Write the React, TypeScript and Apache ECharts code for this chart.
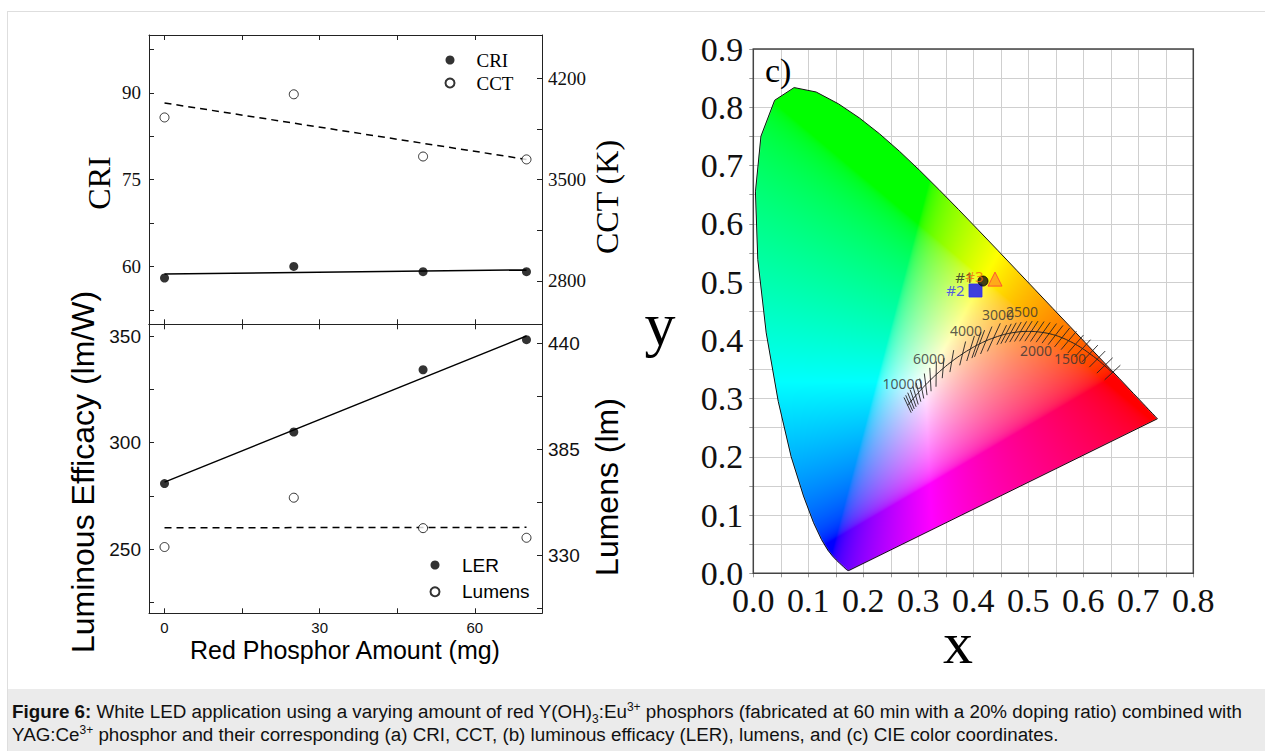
import React, { useEffect, useRef } from "react";
import * as echarts from "echarts";

// ---------- (a) CRI / CCT ----------
const amounts = [0, 25, 50, 70];
const criValues = [58.0, 60.0, 59.1, 59.1];
const cctValues = [3930, 4090, 3660, 3640];
const criFit = [[0, 58.7], [70, 59.4]];
const cctFit = [[0, 4030], [70, 3640]];

// ---------- (b) LER / Lumens ----------
const lerValues = [280.8, 305.0, 334.2, 348.3];
const lumenValues = [334.4, 360.0, 344.2, 339.2];
const lerFit = [[0, 281.5], [70, 350.0]];
const lumenFit = [[0, 344.4], [70, 344.6]];

// ---------- ticks ----------
const amountTicks = [0, 15, 30, 45, 60];
const amountLabels = [0, 30, 60];
const criTicks = [52.5, 60, 67.5, 75, 82.5, 90, 97.5];
const criLabels = [60, 75, 90];
const cctTicks = [2800, 3150, 3500, 3850, 4200];
const cctLabels = [2800, 3500, 4200];
const lerTicks = [225, 250, 275, 300, 325, 350];
const lerLabels = [250, 300, 350];
const lumenTicks = [302.5, 330, 357.5, 385, 412.5, 440];
const lumenLabels = [330, 385, 440];

// ---------- (c) CIE 1931 ----------
const locusX = [0.1741, 0.1740, 0.1738, 0.1736, 0.1733, 0.1730, 0.1726, 0.1721, 0.1714, 0.1703, 0.1689, 0.1669, 0.1644, 0.1611, 0.1566, 0.1510, 0.1440, 0.1355, 0.1241, 0.1096, 0.0913, 0.0687, 0.0454, 0.0235, 0.0082, 0.0039, 0.0139, 0.0389, 0.0743, 0.1142, 0.1547, 0.1929, 0.2296, 0.2658, 0.3016, 0.3373, 0.3731, 0.4087, 0.4441, 0.4788, 0.5125, 0.5448, 0.5752, 0.6029, 0.6270, 0.6482, 0.6658, 0.6801, 0.6915, 0.7006, 0.7079, 0.7140, 0.7190, 0.7230, 0.7260, 0.7283, 0.7300, 0.7311, 0.7320, 0.7334, 0.7347];
const locusY = [0.0050, 0.0050, 0.0049, 0.0049, 0.0048, 0.0048, 0.0048, 0.0048, 0.0051, 0.0058, 0.0069, 0.0086, 0.0109, 0.0138, 0.0177, 0.0227, 0.0297, 0.0399, 0.0578, 0.0868, 0.1327, 0.2007, 0.2950, 0.4127, 0.5384, 0.6548, 0.7502, 0.8120, 0.8338, 0.8262, 0.8059, 0.7816, 0.7543, 0.7243, 0.6923, 0.6589, 0.6245, 0.5896, 0.5547, 0.5202, 0.4866, 0.4544, 0.4242, 0.3965, 0.3725, 0.3514, 0.3340, 0.3197, 0.3083, 0.2993, 0.2920, 0.2859, 0.2809, 0.2770, 0.2740, 0.2717, 0.2700, 0.2689, 0.2680, 0.2666, 0.2653];

const planckT = [1000, 1100, 1200, 1300, 1400, 1500, 1600, 1700, 1800, 1900, 2000, 2100, 2200, 2300, 2400, 2500, 2600, 2700, 2800, 3000, 3200, 3400, 3500, 3700, 4000, 4500, 5000, 5500, 6000, 6500, 7000, 7500, 8000, 8500, 9000, 9500, 10000];
const planckX = [0.6528, 0.6387, 0.6251, 0.6117, 0.5985, 0.5857, 0.5732, 0.5611, 0.5492, 0.5378, 0.5267, 0.5160, 0.5054, 0.4953, 0.4857, 0.4765, 0.4677, 0.4593, 0.4514, 0.4369, 0.4232, 0.4110, 0.4053, 0.3948, 0.3805, 0.3608, 0.3451, 0.3325, 0.3221, 0.3135, 0.3064, 0.3004, 0.2952, 0.2908, 0.2869, 0.2836, 0.2807];
const planckY = [0.3444, 0.3565, 0.3674, 0.3770, 0.3858, 0.3931, 0.3993, 0.4044, 0.4085, 0.4114, 0.4133, 0.4146, 0.4152, 0.4152, 0.4147, 0.4137, 0.4124, 0.4107, 0.4087, 0.4041, 0.3991, 0.3936, 0.3909, 0.3852, 0.3768, 0.3636, 0.3516, 0.3411, 0.3318, 0.3237, 0.3166, 0.3103, 0.3048, 0.3000, 0.2956, 0.2918, 0.2884];

const cctTagText = ["10000", "6000", "4000", "3000", "2500", "2000", "1500"];
const cctTagX = [0.2713, 0.3195, 0.3867, 0.4449, 0.4885, 0.514, 0.5758];
const cctTagY = [0.3266, 0.3695, 0.4176, 0.4434, 0.4502, 0.3833, 0.3695];

const sampleNames = ["#2", "#1", "#3"];
const sampleX = [0.404, 0.4176, 0.4395];
const sampleY = [0.4854, 0.5017, 0.505];

const cieXMax = 0.8;
const cieYMax = 0.9;

// ---------- styles ----------
const serif = "'Liberation Serif','Times New Roman',serif";
const sans = "'Liberation Sans',Arial,sans-serif";
const uiSans = "'Noto Sans','Open Sans',sans-serif";
const sampleSymbols = ["rect", "circle", "triangle"];
const sampleSizes = [13, 10, 14];
const sampleFill = ["#0f0fff", "#111111", "#ff9a1f"];
const sampleBorder = ["#2a2aff", "#000000", "#ff3b3b"];
const sampleLabelColor = ["#2f2fff", "#222222", "#f26a10"];
const sampleLabelOffset = [[0, -1], [0, -4], [0, -3]];

function toUV(x: number, y: number) {
  const d = -2 * x + 12 * y + 3;
  return [(4 * x) / d, (6 * y) / d];
}
function toXY(u: number, v: number) {
  const d = 2 * u - 8 * v + 4;
  return [(3 * u) / d, (2 * v) / d];
}

// image pixel size matches the plot box aspect (440 x 524.3 px)
function makeCieImage(): string {
  const W = 880, H = 1049;
  const c1 = document.createElement("canvas");
  c1.width = W; c1.height = H;
  const g1 = c1.getContext("2d")!;
  const im = g1.createImageData(W, H);
  const gam = (v: number) => (v <= 0.0031308 ? 12.92 * v : 1.055 * Math.pow(v, 1 / 2.4) - 0.055);
  for (let j = 0; j < H; j++) {
    const y = Math.max(cieYMax * (1 - (j + 0.5) / H), 0.002);
    for (let i = 0; i < W; i++) {
      const x = cieXMax * (i + 0.5) / W;
      const X = x / y, Z = (1 - x - y) / y;
      let r = 3.2406 * X - 1.5372 - 0.4986 * Z;
      let g = -0.9689 * X + 1.8758 + 0.0415 * Z;
      let b = 0.0557 * X - 0.204 + 1.057 * Z;
      r = Math.max(r, 0); g = Math.max(g, 0); b = Math.max(b, 0);
      const m = Math.max(r, g, b, 1e-6);
      const k = (j * W + i) * 4;
      im.data[k] = Math.round(255 * gam(r / m));
      im.data[k + 1] = Math.round(255 * gam(g / m));
      im.data[k + 2] = Math.round(255 * gam(b / m));
      im.data[k + 3] = 255;
    }
  }
  g1.putImageData(im, 0, 0);
  const c2 = document.createElement("canvas");
  c2.width = W; c2.height = H;
  const g2 = c2.getContext("2d")!;
  g2.beginPath();
  locusX.forEach((lx, k) => {
    const px = (lx / cieXMax) * W, py = (1 - locusY[k] / cieYMax) * H;
    if (k === 0) g2.moveTo(px, py); else g2.lineTo(px, py);
  });
  g2.closePath();
  g2.clip();
  g2.drawImage(c1, 0, 0);
  return c2.toDataURL("image/png");
}

function panelX(gridIndex: number, position: string, showLabels: boolean) {
  return {
    type: "value", gridIndex, position, min: -3, max: 73,
    axisLine: { show: true, onZero: false, lineStyle: { color: "#222", width: 1 } },
    axisTick: { show: true, inside: true, length: 5, customValues: amountTicks, lineStyle: { color: "#222" } },
    axisLabel: { show: showLabels, customValues: amountLabels, fontFamily: sans, fontSize: 15, color: "#111", margin: 7 },
    splitLine: { show: false },
  };
}

function panelY(gridIndex: number, position: string, min: number, max: number, ticks: number[], labels: number[], font: string, margin: number) {
  return {
    type: "value", gridIndex, position, min, max,
    axisLine: { show: true, onZero: false, lineStyle: { color: "#222", width: 1 } },
    axisTick: { show: true, inside: true, length: 5, customValues: ticks, lineStyle: { color: "#222" } },
    axisLabel: { show: true, customValues: labels, formatter: (v: number) => String(v), fontFamily: font, fontSize: 19, color: "#111", margin },
    splitLine: { show: false },
  };
}

function cieAxis(gridIndex: number, max: number) {
  return {
    type: "value", gridIndex, min: 0, max, interval: 0.1,
    axisLine: { show: false, onZero: false },
    axisTick: { show: true, length: 4, lineStyle: { color: "#999" } },
    minorTick: { show: true, splitNumber: 2, length: 4, lineStyle: { color: "#999" } },
    axisLabel: { formatter: (v: number) => v.toFixed(1), fontFamily: serif, fontSize: 34, color: "#111", margin: 10 },
    splitLine: { show: true, lineStyle: { color: "#cfcfcf", width: 1 } },
    minorSplitLine: { show: true, lineStyle: { color: "#cfcfcf", width: 1 } },
  };
}

function title(text: string, x: number, y: number, font: string, rot: boolean, align = "center") {
  return {
    type: "text", x, y, rotation: rot ? Math.PI / 2 : 0, z: 20,
    style: { text, font, fill: "#000", textAlign: align, textVerticalAlign: "middle", align, verticalAlign: "middle" },
  };
}

function buildOption(imgUrl: string) {
  const pts = (xs: number[], ys: number[]) => xs.map((x, i) => [x, ys[i]]);
  return {
    animation: false,
    grid: [
      { left: 149, top: 35, width: 393, height: 289.3, outerBoundsMode: "none" },
      { left: 149, top: 324.3, width: 393, height: 289, outerBoundsMode: "none" },
      { left: 753.3, top: 49, width: 440, height: 524.3, outerBoundsMode: "none" },
    ],
    xAxis: [
      panelX(0, "bottom", false),
      panelX(0, "top", false),
      panelX(1, "bottom", true),
      panelX(1, "top", false),
      cieAxis(2, cieXMax),
    ],
    yAxis: [
      panelY(0, "left", 50, 100, criTicks, criLabels, serif, 8),
      panelY(0, "right", 2500, 4500, cctTicks, cctLabels, serif, 6),
      panelY(1, "left", 220, 355.5, lerTicks, lerLabels, sans, 8),
      panelY(1, "right", 300, 450, lumenTicks, lumenLabels, sans, 6),
      cieAxis(2, cieYMax),
    ],
    legend: [
      {
        data: ["CRI", "CCT"], orient: "vertical", left: 444.5, top: 50, padding: 0,
        itemWidth: 9, itemHeight: 9, itemGap: 3, selectedMode: false,
        textStyle: { fontFamily: serif, fontSize: 19, color: "#000", lineHeight: 20, padding: [0, 0, 0, 17] },
      },
      {
        data: ["LER", "Lumens"], orient: "vertical", left: 429.5, top: 555, padding: 0,
        itemWidth: 9, itemHeight: 9, itemGap: 6.7, selectedMode: false,
        textStyle: { fontFamily: sans, fontSize: 19, color: "#000", lineHeight: 20, padding: [0, 0, 0, 17.5] },
      },
    ],
    graphic: [
      title("CRI", 99, 183, `32px ${serif}`, true),
      title("CCT (K)", 607, 197, `32px ${serif}`, true),
      title("Luminous Efficacy (lm/W)", 83, 472, `32px ${sans}`, true),
      title("Lumens (lm)", 607, 487, `32px ${sans}`, true),
      title("Red Phosphor Amount (mg)", 345, 650, `25px ${sans}`, false),
      title("y", 660, 324, `62px ${serif}`, false),
      title("x", 958, 643, `60px ${serif}`, false),
      title("c)", 765, 70, `34px ${serif}`, false, "left"),
    ],
    series: [
      { name: "CRI fit", type: "line", xAxisIndex: 0, yAxisIndex: 0, data: criFit, symbol: "none", lineStyle: { color: "#000", width: 1.5 }, z: 3 },
      { name: "CCT fit", type: "line", xAxisIndex: 0, yAxisIndex: 1, data: cctFit, symbol: "none", lineStyle: { color: "#000", width: 1.5, type: [7, 5] }, z: 3 },
      { name: "CRI", type: "scatter", xAxisIndex: 0, yAxisIndex: 0, data: pts(amounts, criValues), symbol: "circle", symbolSize: 9, itemStyle: { color: "#000" }, z: 5 },
      { name: "CCT", type: "scatter", xAxisIndex: 0, yAxisIndex: 1, data: pts(amounts, cctValues), symbol: "circle", symbolSize: 9, itemStyle: { color: "#fff", borderColor: "#000", borderWidth: 1 }, z: 5 },
      { name: "LER fit", type: "line", xAxisIndex: 2, yAxisIndex: 2, data: lerFit, symbol: "none", lineStyle: { color: "#000", width: 1.5 }, z: 3 },
      { name: "Lumens fit", type: "line", xAxisIndex: 2, yAxisIndex: 3, data: lumenFit, symbol: "none", lineStyle: { color: "#000", width: 1.5, type: [7, 5] }, z: 3 },
      { name: "LER", type: "scatter", xAxisIndex: 2, yAxisIndex: 2, data: pts(amounts, lerValues), symbol: "circle", symbolSize: 9, itemStyle: { color: "#000" }, z: 5 },
      { name: "Lumens", type: "scatter", xAxisIndex: 2, yAxisIndex: 3, data: pts(amounts, lumenValues), symbol: "circle", symbolSize: 9, itemStyle: { color: "#fff", borderColor: "#000", borderWidth: 1 }, z: 5 },
      // CIE colour field
      {
        name: "gamut", type: "custom", xAxisIndex: 4, yAxisIndex: 4, data: [[0, 0]], silent: true, clip: false, z: 2,
        renderItem: (_p: any, api: any) => {
          const a = api.coord([0, cieYMax]);
          const b = api.coord([cieXMax, 0]);
          return { type: "image", style: { image: imgUrl, x: a[0], y: a[1], width: b[0] - a[0], height: b[1] - a[1] } };
        },
      },
      {
        name: "spectral locus", type: "line", xAxisIndex: 4, yAxisIndex: 4,
        data: [...pts(locusX, locusY), [locusX[0], locusY[0]]],
        symbol: "none", lineStyle: { color: "#111", width: 1 }, z: 3, silent: true,
      },
      {
        name: "planckian", type: "line", xAxisIndex: 4, yAxisIndex: 4, data: pts(planckX, planckY),
        symbol: "none", smooth: true, lineStyle: { color: "#222", width: 1 }, z: 4, silent: true,
      },
      {
        name: "isotherms", type: "custom", xAxisIndex: 4, yAxisIndex: 4, data: pts(planckX, planckY), z: 4, silent: true,
        renderItem: (params: any, api: any) => {
          const i = params.dataIndex;
          const a = Math.max(0, i - 1), b = Math.min(planckX.length - 1, i + 1);
          const ua = toUV(planckX[a], planckY[a]);
          const ub = toUV(planckX[b], planckY[b]);
          let tu = ub[0] - ua[0], tv = ub[1] - ua[1];
          const n = Math.hypot(tu, tv) || 1;
          tu /= n; tv /= n;
          const c = toUV(api.value(0), api.value(1));
          const T = planckT[i];
          const d = T > 5000 ? 0.011 : T >= 3000 ? 0.008 : 0.0055;
          const p1 = api.coord(toXY(c[0] - tv * d, c[1] + tu * d));
          const p2 = api.coord(toXY(c[0] + tv * d, c[1] - tu * d));
          return { type: "line", shape: { x1: p1[0], y1: p1[1], x2: p2[0], y2: p2[1] }, style: { stroke: "#222", lineWidth: 0.9 } };
        },
      },
      {
        name: "cct tags", type: "scatter", xAxisIndex: 4, yAxisIndex: 4, data: pts(cctTagX, cctTagY),
        symbolSize: 1, itemStyle: { color: "rgba(0,0,0,0)" }, z: 6, silent: true,
        label: { show: true, position: "inside", formatter: (p: any) => cctTagText[p.dataIndex], fontFamily: uiSans, fontSize: 14, color: "#333" },
      },
      {
        name: "samples", type: "scatter", xAxisIndex: 4, yAxisIndex: 4, z: 7, silent: true,
        data: sampleNames.map((nm, i) => ({
          name: nm, value: [sampleX[i], sampleY[i]], symbol: sampleSymbols[i], symbolSize: sampleSizes[i],
          itemStyle: { color: sampleFill[i], borderColor: sampleBorder[i], borderWidth: 1 },
          label: { show: true, position: "left", distance: 4, offset: sampleLabelOffset[i], formatter: nm, color: sampleLabelColor[i], fontFamily: uiSans, fontSize: 15 },
        })),
      },
      {
        name: "frame", type: "custom", xAxisIndex: 4, yAxisIndex: 4, data: [[0, 0]], silent: true, clip: false, z: 10,
        renderItem: (_p: any, api: any) => {
          const a = api.coord([0, cieYMax]);
          const b = api.coord([cieXMax, 0]);
          return { type: "rect", shape: { x: a[0], y: a[1], width: b[0] - a[0], height: b[1] - a[1] }, style: { fill: "none", stroke: "#444", lineWidth: 1.5 } };
        },
      },
    ],
  };
}

export default function App() {
  const ref = useRef<HTMLDivElement>(null);
  useEffect(() => {
    document.body.style.margin = "0";
    const chart = echarts.init(ref.current!, null, { renderer: "svg" });
    const url = makeCieImage();
    chart.setOption(buildOption(url) as any);
    return () => chart.dispose();
  }, []);
  const supSub: React.CSSProperties = { fontSize: 12, lineHeight: 0 };
  return (
    <div style={{ position: "fixed", left: 0, top: 0, width: 1265, height: 751, background: "#fff", overflow: "hidden" }}>
      <div style={{ position: "absolute", left: 7, top: 11, right: -2, bottom: -2, borderTop: "1px solid #dedede", borderLeft: "1px solid #dedede" }} />
      <div style={{ position: "absolute", left: 8, top: 689, width: 1257, height: 62, background: "#ebebeb" }} />
      <div ref={ref} style={{ position: "absolute", left: 0, top: 0, width: 1265, height: 689 }} />
      <div style={{ position: "absolute", left: 12, top: 700, fontFamily: sans, fontSize: 18.8, lineHeight: "23px", color: "#111", whiteSpace: "nowrap" }}>
        <b>Figure 6:</b> White LED application using a varying amount of red Y(OH)<sub style={supSub}>3</sub>:Eu<sup style={supSub}>3+</sup> phosphors (fabricated at 60 min with a 20% doping ratio) combined with
        <br />
        YAG:Ce<sup style={supSub}>3+</sup> phosphor and their corresponding (a) CRI, CCT, (b) luminous efficacy (LER), lumens, and (c) CIE color coordinates.
      </div>
    </div>
  );
}
